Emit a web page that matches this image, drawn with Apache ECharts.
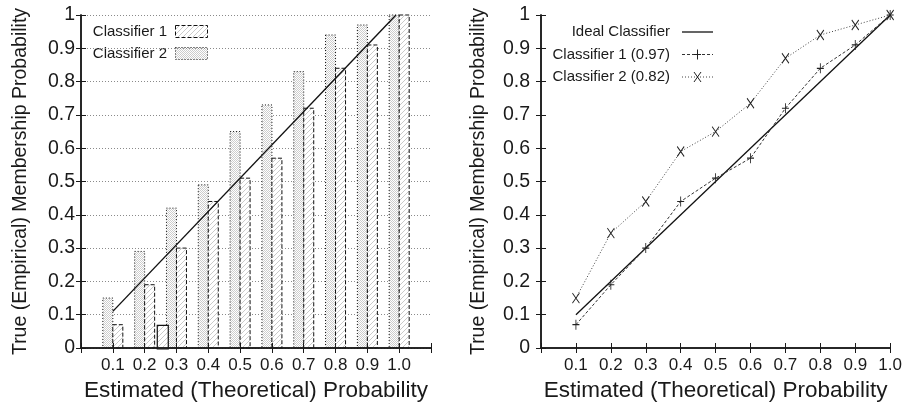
<!DOCTYPE html>
<html>
<head>
<meta charset="utf-8">
<script src="https://cdn.jsdelivr.net/npm/echarts@6/dist/echarts.min.js"></script>
<style>
  html, body { margin: 0; padding: 0; background: #fff; }
  #chart { width: 905px; height: 407px; }
</style>
</head>
<body>
<div id="chart"></div>
<script>
// ---- data ----
const bins = [0.1, 0.2, 0.3, 0.4, 0.5, 0.6, 0.7, 0.8, 0.9, 1.0];
const binLabels = ['0.1', '0.2', '0.3', '0.4', '0.5', '0.6', '0.7', '0.8', '0.9', '1.0'];
const yTickLabels = ['0', '0.1', '0.2', '0.3', '0.4', '0.5', '0.6', '0.7', '0.8', '0.9', '1'];

// histogram panel
const barNames = ['Classifier 1', 'Classifier 2'];
const classifier1Bars = [0.07, 0.19, 0.30, 0.44, 0.51, 0.57, 0.72, 0.84, 0.91, 1.0];
const classifier2Bars = [0.15, 0.29, 0.42, 0.49, 0.65, 0.73, 0.83, 0.94, 0.97, 1.0];
const strayBinX = [0.257];
const strayBinY = [0.068];
const diagonalX = [0.1, 0.99];
const diagonalY = [0.11, 1.0];

// reliability curve panel
const curveNames = ['Ideal Classifier', 'Classifier 1 (0.97)', 'Classifier 2 (0.82)'];
const idealX = [0.1, 1.0];
const idealY = [0.1, 1.0];
const classifier1Curve = [0.07, 0.19, 0.30, 0.44, 0.51, 0.57, 0.72, 0.84, 0.91, 1.0];
const classifier2Curve = [0.15, 0.345, 0.44, 0.59, 0.65, 0.735, 0.87, 0.94, 0.97, 1.0];

const axisTitleX = 'Estimated (Theoretical) Probability';
const axisTitleY = 'True (Empirical) Membership Probability';

// ---- styling helpers ----
const FONT = '"Liberation Sans", Arial, Helvetica, sans-serif';
const INK = '#1a1a1a';
const BAR_W = 10;

function makeTile(w, h, draw) {
  const c = document.createElement('canvas');
  c.width = w; c.height = h;
  const g = c.getContext('2d');
  g.fillStyle = '#fff';
  g.fillRect(0, 0, w, h);
  draw(g, w, h);
  return c;
}
// diagonal hatch "////"
const hatchTile = makeTile(5, 5, function (g, w, h) {
  g.strokeStyle = '#bcbcbc';
  g.lineWidth = 0.8;
  g.beginPath();
  g.moveTo(-1, h + 1); g.lineTo(w + 1, -1);
  g.moveTo(-1, 1); g.lineTo(1, -1);
  g.moveTo(w - 1, h + 1); g.lineTo(w + 1, h - 1);
  g.stroke();
});
// fine stipple
const stippleTile = makeTile(2, 2, function (g) {
  g.fillStyle = '#cdcdcd';
  g.fillRect(0, 0, 1, 1);
  g.fillRect(1, 1, 1, 1);
});
const hatchFill = { image: hatchTile, repeat: 'repeat' };
const stippleFill = { image: stippleTile, repeat: 'repeat' };

function barRenderer(side, fill, dash) {
  return function (params, api) {
    const x = api.value(0), y = api.value(1);
    const top = api.coord([x, y]);
    const base = api.coord([x, 0]);
    const x0 = side < 0 ? top[0] - BAR_W : top[0];
    return {
      type: 'rect',
      shape: { x: x0, y: top[1], width: BAR_W, height: base[1] - top[1] },
      style: { fill: fill, stroke: '#111', lineWidth: 1, lineDash: dash }
    };
  };
}
function strayRenderer(params, api) {
  const x = api.value(0), y = api.value(1);
  const top = api.coord([x, y]);
  const base = api.coord([x, 0]);
  const w = 11;
  return {
    type: 'rect',
    shape: { x: top[0] - w / 2, y: top[1], width: w, height: base[1] - top[1] + 1 },
    style: { fill: hatchFill, stroke: '#111', lineWidth: 1.2 }
  };
}

function xLabel(v) {
  const i = Math.round(v * 10) - 1;
  return (i >= 0 && i < binLabels.length) ? binLabels[i] : '';
}
function yLabel(v) {
  const i = Math.round(v * 10);
  return (i >= 0 && i < yTickLabels.length) ? yTickLabels[i] : '';
}

const plusSymbol = 'path://M5,0L5,10M0,5L10,5';
const crossSymbol = 'path://M0,0L10,10M10,0L0,10';

function xAxes(grid, max, gap) {
  return [
    {
      gridIndex: grid, type: 'value', min: 0, max: max, interval: 0.1, position: 'bottom', z: 5,
      axisLine: { show: true, lineStyle: { color: INK, width: 1.5 } },
      axisTick: { show: true, inside: true, length: 5, lineStyle: { color: INK, width: 1 } },
      axisLabel: { formatter: xLabel, color: INK, fontSize: 17, fontFamily: FONT, margin: 9, showMinLabel: true, showMaxLabel: true },
      splitLine: { show: false },
      name: axisTitleX, nameLocation: 'middle', nameGap: gap,
      nameTextStyle: { color: INK, fontSize: 22.5, fontFamily: FONT }
    },
    {
      gridIndex: grid, type: 'value', min: 0, max: max, interval: 0.1, position: 'top', z: 5,
      axisLine: { show: true, lineStyle: { color: INK, width: 1.5 } },
      axisTick: { show: true, inside: true, length: 5, lineStyle: { color: INK, width: 1 } },
      axisLabel: { show: false }, splitLine: { show: false }
    }
  ];
}
function yAxes(grid, withGrid, labelMargin, gap) {
  return [
    {
      gridIndex: grid, type: 'value', min: 0, max: 1, interval: 0.1, position: 'left',
      axisLine: { show: true, lineStyle: { color: INK, width: 1.5 } },
      axisTick: { show: true, inside: true, length: 5, lineStyle: { color: INK, width: 1 } },
      axisLabel: { formatter: yLabel, color: INK, fontSize: 19.5, fontFamily: FONT, margin: labelMargin, showMinLabel: true, showMaxLabel: true },
      splitLine: withGrid
        ? { show: true, lineStyle: { color: '#8a8a8a', width: 1, type: [1, 2] } }
        : { show: false },
      name: axisTitleY, nameLocation: 'middle', nameGap: gap,
      nameTextStyle: { color: INK, fontSize: 19.5, fontFamily: FONT }
    },
    {
      gridIndex: grid, type: 'value', min: 0, max: 1, interval: 0.1, position: 'right', z: 5,
      axisLine: { show: true, lineStyle: { color: INK, width: 1.5 } },
      axisTick: { show: true, inside: true, length: 5, lineStyle: { color: INK, width: 1 } },
      axisLabel: { show: false }, splitLine: { show: false }
    }
  ];
}

// ---- legends (drawn as graphics) ----
const legendFont = '15px ' + FONT;
const leftLegend = {
  type: 'group', z: 10,
  children: [
    { type: 'rect', shape: { x: 84, y: 17, width: 127, height: 45 }, style: { fill: '#fff' } },
    { type: 'text', x: 167, y: 31.5, style: { text: barNames[0], font: legendFont, fill: INK, align: 'right', verticalAlign: 'middle' } },
    { type: 'rect', shape: { x: 175.5, y: 25.5, width: 32, height: 12 }, style: { fill: hatchFill, stroke: '#111', lineWidth: 1, lineDash: [4, 2] } },
    { type: 'text', x: 167, y: 53.5, style: { text: barNames[1], font: legendFont, fill: INK, align: 'right', verticalAlign: 'middle' } },
    { type: 'rect', shape: { x: 175.5, y: 47.5, width: 32, height: 12 }, style: { fill: stippleFill, stroke: '#111', lineWidth: 1, lineDash: [1, 2] } }
  ]
};
function markerLines(cx, cy, kind, color) {
  const hw = 3.5, hh = 5;
  if (kind === 'plus') {
    return [
      { type: 'line', shape: { x1: cx, y1: cy - hh, x2: cx, y2: cy + hh }, style: { stroke: color, lineWidth: 1 } },
      { type: 'line', shape: { x1: cx - hw, y1: cy, x2: cx + hw, y2: cy }, style: { stroke: color, lineWidth: 1 } }
    ];
  }
  return [
    { type: 'line', shape: { x1: cx - hw, y1: cy - hh, x2: cx + hw, y2: cy + hh }, style: { stroke: color, lineWidth: 1 } },
    { type: 'line', shape: { x1: cx + hw, y1: cy - hh, x2: cx - hw, y2: cy + hh }, style: { stroke: color, lineWidth: 1 } }
  ];
}
const rightRows = [32, 54.5, 77];
const rightLegend = {
  type: 'group', z: 10,
  children: [
    { type: 'text', x: 670, y: rightRows[0], style: { text: curveNames[0], font: legendFont, fill: INK, align: 'right', verticalAlign: 'middle' } },
    { type: 'line', shape: { x1: 682, y1: rightRows[0], x2: 713, y2: rightRows[0] }, style: { stroke: '#111', lineWidth: 1.3 } },
    { type: 'text', x: 670, y: rightRows[1], style: { text: curveNames[1], font: legendFont, fill: INK, align: 'right', verticalAlign: 'middle' } },
    { type: 'line', shape: { x1: 682, y1: rightRows[1], x2: 713, y2: rightRows[1] }, style: { stroke: '#333', lineWidth: 1, lineDash: [3, 2] } },
    ...markerLines(697.5, rightRows[1], 'plus', '#222'),
    { type: 'text', x: 670, y: rightRows[2], style: { text: curveNames[2], font: legendFont, fill: INK, align: 'right', verticalAlign: 'middle' } },
    { type: 'line', shape: { x1: 682, y1: rightRows[2], x2: 713, y2: rightRows[2] }, style: { stroke: '#444', lineWidth: 1, lineDash: [1, 2] } },
    ...markerLines(697.5, rightRows[2], 'cross', '#222')
  ]
};

const pairs = (xs, ys) => xs.map((x, i) => [x, ys[i]]);

const option = {
  animation: false,
  backgroundColor: '#fff',
  textStyle: { fontFamily: FONT },
  grid: [
    { left: 81, right: 474, top: 15, bottom: 53, containLabel: false },
    { left: 541, right: 14, top: 15, bottom: 53, containLabel: false }
  ],
  xAxis: [...xAxes(0, 1.1, 31), ...xAxes(1, 1.0, 31)],
  yAxis: [...yAxes(0, true, 6, 50), ...yAxes(1, false, 11, 52)],
  series: [
    {
      type: 'custom', name: barNames[1], xAxisIndex: 0, yAxisIndex: 0,
      renderItem: barRenderer(-1, stippleFill, [1, 2]),
      encode: { x: 0, y: 1 }, data: pairs(bins, classifier2Bars), silent: true
    },
    {
      type: 'custom', name: barNames[0], xAxisIndex: 0, yAxisIndex: 0,
      renderItem: barRenderer(1, hatchFill, [4, 2]),
      encode: { x: 0, y: 1 }, data: pairs(bins, classifier1Bars), silent: true
    },
    {
      type: 'custom', name: 'stray', xAxisIndex: 0, yAxisIndex: 0,
      renderItem: strayRenderer,
      encode: { x: 0, y: 1 }, data: pairs(strayBinX, strayBinY), silent: true
    },
    {
      type: 'line', name: 'diagonal', xAxisIndex: 0, yAxisIndex: 0,
      data: pairs(diagonalX, diagonalY), symbol: 'none', silent: true, z: 4,
      lineStyle: { color: '#111', width: 1.4 }
    },
    {
      type: 'line', name: curveNames[0], xAxisIndex: 2, yAxisIndex: 2,
      data: pairs(idealX, idealY), symbol: 'none', silent: true,
      lineStyle: { color: '#111', width: 1.3 }
    },
    {
      type: 'line', name: curveNames[1], xAxisIndex: 2, yAxisIndex: 2,
      data: pairs(bins, classifier1Curve), silent: true,
      symbol: plusSymbol, symbolSize: [7, 10], showSymbol: true,
      itemStyle: { color: 'rgba(0,0,0,0)', borderColor: '#222', borderWidth: 1 },
      lineStyle: { color: '#333', width: 1, type: [3, 2] }
    },
    {
      type: 'line', name: curveNames[2], xAxisIndex: 2, yAxisIndex: 2,
      data: pairs(bins, classifier2Curve), silent: true,
      symbol: crossSymbol, symbolSize: [7, 10], showSymbol: true,
      itemStyle: { color: 'rgba(0,0,0,0)', borderColor: '#222', borderWidth: 1 },
      lineStyle: { color: '#444', width: 1, type: [1, 2] }
    }
  ],
  graphic: [leftLegend, rightLegend]
};

const chart = echarts.init(document.getElementById('chart'), null, { renderer: 'canvas' });
chart.setOption(option);
</script>
</body>
</html>
